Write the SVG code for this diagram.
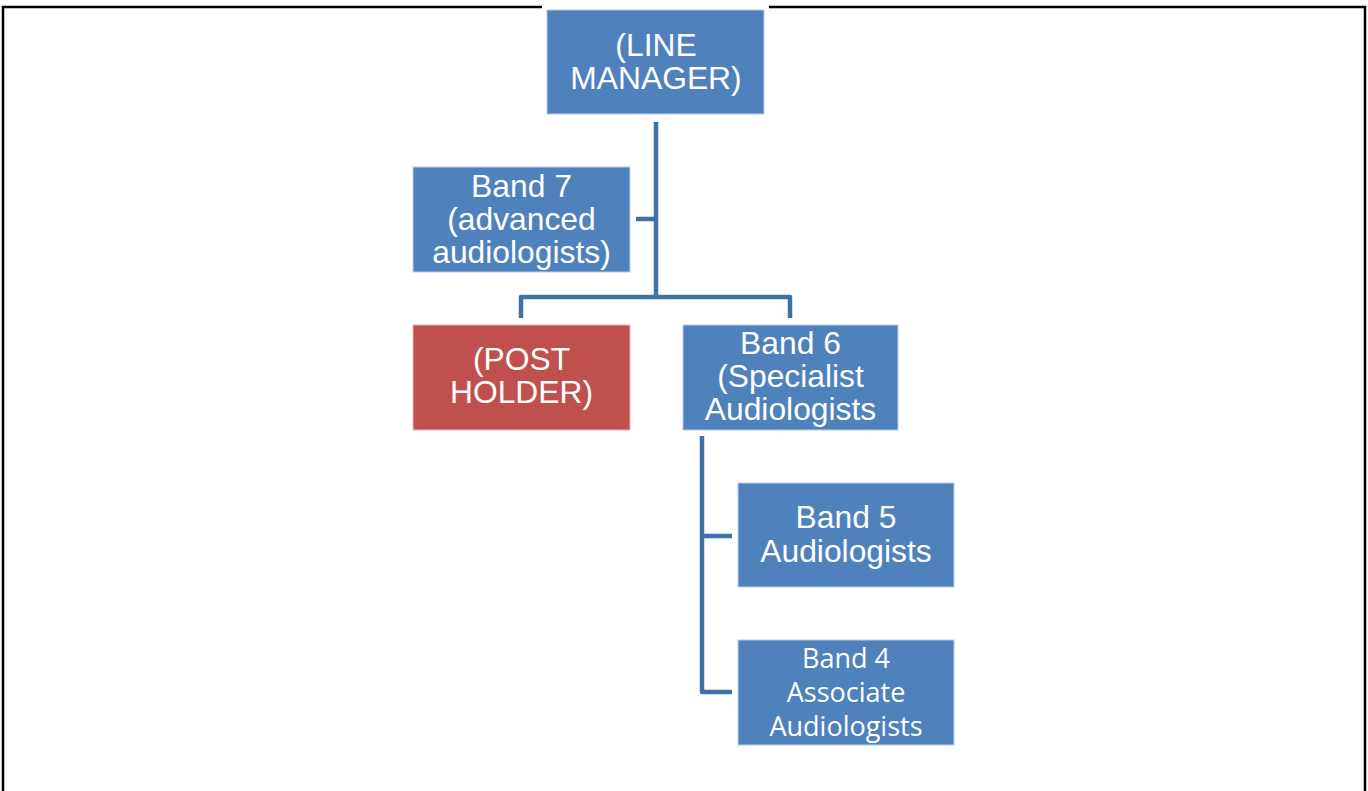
<svg xmlns="http://www.w3.org/2000/svg" width="1368" height="791" viewBox="0 0 1368 791">
<style>
.box{fill:#4F81BD;stroke:#B9CDE5;stroke-width:1}
.red{fill:#C0504D;stroke:#E6B9B8;stroke-width:1}
.t{font-family:"Liberation Sans",Arial,sans-serif;font-size:31.8px;fill:#fff;text-anchor:middle}
.c{font-family:"Open Sans","Noto Sans",sans-serif;font-size:27px;fill:#fff;text-anchor:middle}
.conn{fill:none;stroke:#4170A6;stroke-width:4.5;stroke-linejoin:round}
</style>
<rect x="0" y="0" width="1368" height="791" fill="#fff"/>
<rect x="3" y="7" width="1362" height="820" fill="none" stroke="#000" stroke-width="2.5"/>
<rect x="542" y="3" width="227" height="8" fill="#fff"/>
<g id="connectors">
<path class="conn" d="M656 122 V297"/>
<path class="conn" d="M636 219 H656"/>
<path class="conn" d="M521 318 V297 H790 V318"/>
<path class="conn" d="M702 436 V692 H732"/>
<path class="conn" d="M702 536 H732"/>
</g>
<g id="line-manager">
<rect class="box" x="547" y="10" width="217" height="104"/>
<text class="t" x="656" y="56">(LINE</text>
<text class="t" x="656" y="89">MANAGER)</text>
</g>
<g id="band7">
<rect class="box" x="413" y="167" width="217" height="105"/>
<text class="t" x="521.5" y="197">Band 7</text>
<text class="t" x="521.5" y="230">(advanced</text>
<text class="t" x="521.5" y="263">audiologists)</text>
</g>
<g id="post-holder">
<rect class="red" x="413" y="325" width="217" height="105"/>
<text class="t" x="521.5" y="370">(POST</text>
<text class="t" x="521.5" y="403">HOLDER)</text>
</g>
<g id="band6">
<rect class="box" x="683" y="325" width="215" height="105"/>
<text class="t" x="790.5" y="354">Band 6</text>
<text class="t" x="790.5" y="387">(Specialist</text>
<text class="t" x="790.5" y="420">Audiologists</text>
</g>
<g id="band5">
<rect class="box" x="738" y="483" width="216" height="104"/>
<text class="t" x="846" y="528">Band 5</text>
<text class="t" x="846" y="562">Audiologists</text>
</g>
<g id="band4">
<rect class="box" x="738" y="640" width="216" height="105"/>
<text class="c" x="846" y="668">Band 4</text>
<text class="c" x="846" y="702">Associate</text>
<text class="c" x="846" y="736">Audiologists</text>
</g>
</svg>
